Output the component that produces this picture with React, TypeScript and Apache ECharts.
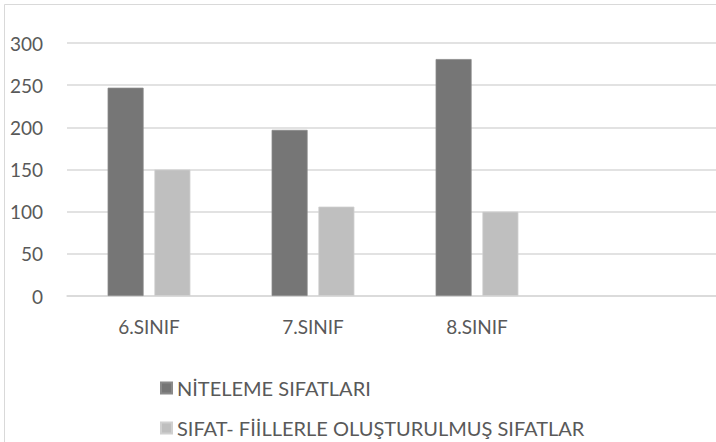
import React, { useEffect, useRef } from "react";
import * as echarts from "echarts";

const categories = ["6.SINIF", "7.SINIF", "8.SINIF", ""];
const seriesNames = ["NİTELEME SIFATLARI", "SIFAT- FİİLLERLE OLUŞTURULMUŞ SIFATLAR"];
const niteleme = [247, 197, 281, null];
const sifatFiil = [150, 106, 100, null];
const yTicks = { min: 0, max: 300, interval: 50 };

const FONT = "Lato, 'Open Sans', sans-serif";

export default function App() {
  const ref = useRef<HTMLDivElement>(null);
  useEffect(() => {
    if (!ref.current) return;
    const chart = echarts.init(ref.current, null, { renderer: "svg" });
    const legendCommon = {
      orient: "vertical",
      left: 155,
      itemWidth: 11,
      itemHeight: 11,
      itemGap: 6,
      icon: "rect",
      textStyle: { color: "#595959", fontSize: 20, fontFamily: FONT, lineHeight: 20 },
    };
    chart.setOption({
      animation: false,
      backgroundColor: "#ffffff",
      textStyle: { fontFamily: FONT },
      graphic: [
        {
          type: "rect",
          shape: { x: 4.5, y: 4.5, width: 800, height: 600 },
          style: { fill: "none", stroke: "#d9d9d9", lineWidth: 1 },
          silent: true,
        },
      ],
      grid: { left: 67, top: 43, width: 656, height: 253, containLabel: false },
      legend: [
        { ...legendCommon, top: 373, data: [seriesNames[0]] },
        { ...legendCommon, top: 413, data: [seriesNames[1]] },
      ],
      xAxis: {
        type: "category",
        data: categories,
        axisLine: { show: true, lineStyle: { color: "#d9d9d9", width: 1.5 } },
        axisTick: { show: false },
        axisLabel: { color: "#595959", fontSize: 19, margin: 21, fontFamily: FONT },
      },
      yAxis: {
        type: "value",
        min: yTicks.min,
        max: yTicks.max,
        interval: yTicks.interval,
        axisLine: { show: false },
        axisTick: { show: false },
        axisLabel: { color: "#595959", fontSize: 19, margin: 24, fontFamily: FONT },
        splitLine: { lineStyle: { color: "#d9d9d9", width: 1.5 } },
      },
      series: [
        {
          name: seriesNames[0],
          type: "bar",
          data: niteleme,
          barWidth: 36,
          barGap: "30%",
          itemStyle: { color: "#767676", borderColor: "#8a8a8a", borderWidth: 0.8 },
        },
        {
          name: seriesNames[1],
          type: "bar",
          data: sifatFiil,
          barWidth: 36,
          itemStyle: { color: "#bfbfbf", borderColor: "#d0d0d0", borderWidth: 0.8 },
        },
      ],
    });
    return () => chart.dispose();
  }, []);
  return (
    <div
      style={{ position: "fixed", left: 0, top: 0, width: 716, height: 442, overflow: "hidden" }}
    >
      <div ref={ref} style={{ width: 740, height: 442 }} />
    </div>
  );
}
